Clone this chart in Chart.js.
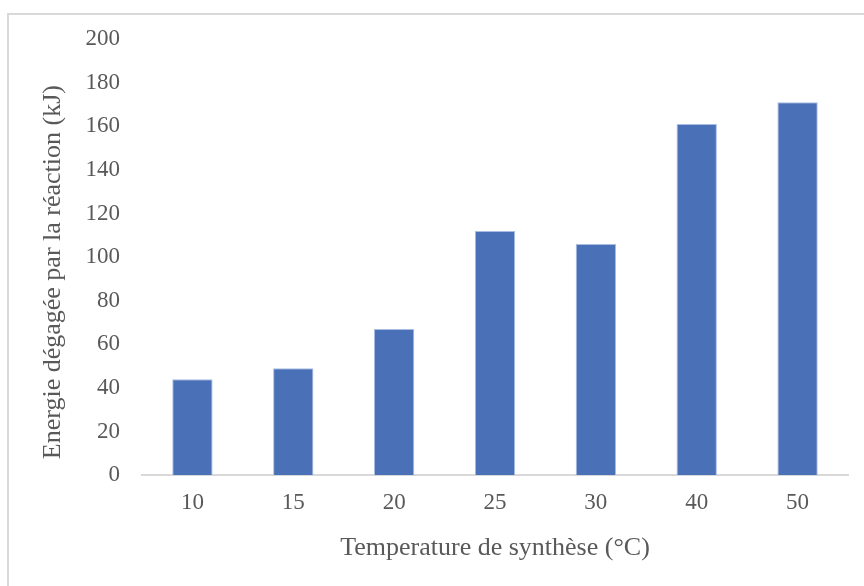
<!DOCTYPE html>
<html>
<head>
<meta charset="utf-8">
<script src="https://cdn.jsdelivr.net/npm/chart.js@4.4.0/dist/chart.umd.min.js"></script>
<style>
  html, body { margin: 0; padding: 0; background: #fff; }
  #frame {
    position: absolute; left: 7px; top: 13px; width: 860px; height: 580px;
    border-top: 2px solid #d9d9d9; border-left: 2px solid #d9d9d9;
  }
  #wrap { position: absolute; left: 0; top: 0; width: 864px; height: 586px; }
</style>
</head>
<body>
<div id="frame"></div>
<div id="wrap"><canvas id="chart"></canvas></div>
<script>
// values
const temperatures = ["10", "15", "20", "25", "30", "40", "50"];
const energy = [44, 49, 67, 112, 106, 161, 171];
const yMin = 0;
const yMax = 200;
const yStep = 20;
const xTitle = "Temperature de synthèse (°C)";
const yTitle = "Energie dégagée par la réaction (kJ)";

const textColor = "#595959";
const serif = "'Liberation Serif', 'Times New Roman', serif";

// y title drawn by hand: Excel puts it a bit below the plot's middle
const yTitlePlugin = {
  id: "yTitle",
  afterDraw(chart) {
    const { ctx, chartArea } = chart;
    ctx.save();
    ctx.font = "26px " + serif;
    ctx.fillStyle = textColor;
    ctx.textAlign = "center";
    ctx.textBaseline = "middle";
    ctx.translate(53, (chartArea.top + chartArea.bottom) / 2 + 15);
    ctx.rotate(-Math.PI / 2);
    ctx.fillText(yTitle, 0, 0);
    ctx.restore();
  },
};

new Chart(document.getElementById("chart"), {
  type: "bar",
  data: {
    labels: temperatures,
    datasets: [
      {
        label: "Energie",
        data: energy,
        backgroundColor: "#4a70b7",
        borderColor: "#a9bde3",
        borderWidth: { left: 1, right: 1, top: 1, bottom: 0 },
        barPercentage: 0.4,
        categoryPercentage: 1,
      },
    ],
  },
  plugins: [yTitlePlugin],
  options: {
    responsive: true,
    maintainAspectRatio: false,
    animation: false,
    layout: { padding: { left: 10, right: 16, top: 39, bottom: 22 } },
    plugins: {
      legend: { display: false },
      tooltip: { enabled: false },
    },
    scales: {
      x: {
        grid: { display: false, drawTicks: false },
        border: { display: true, color: "#d9d9d9", width: 2 },
        ticks: {
          color: textColor,
          padding: 14,
          font: { family: serif, size: 23 },
        },
        title: {
          display: true,
          text: xTitle,
          color: textColor,
          padding: { top: 2, bottom: 0 },
          font: { family: serif, size: 26 },
        },
      },
      y: {
        min: yMin,
        max: yMax,
        grid: { display: false, drawTicks: false },
        border: { display: false },
        ticks: {
          stepSize: yStep,
          color: textColor,
          padding: 22,
          font: { family: serif, size: 23 },
        },
        afterFit: (scale) => {
          scale.width = 132;
        },
      },
    },
  },
});
</script>
</body>
</html>
